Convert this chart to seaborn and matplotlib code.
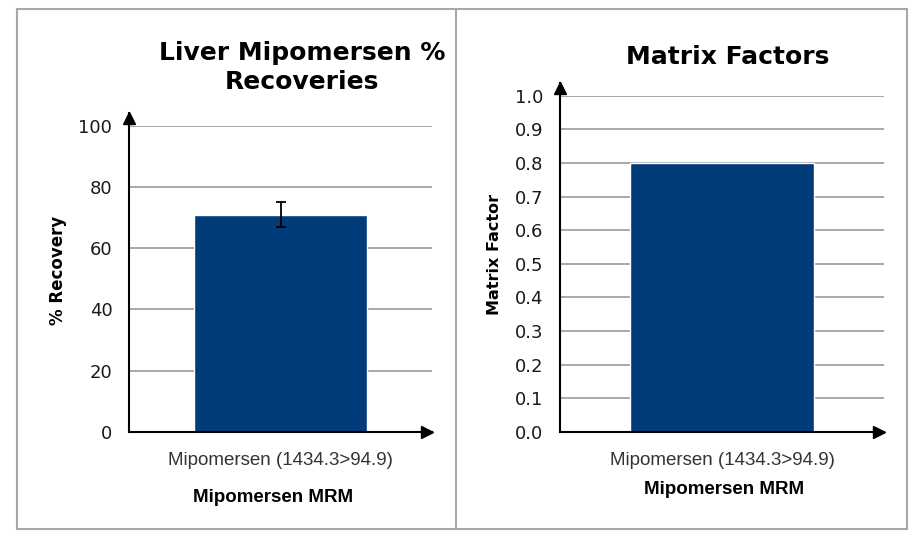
import matplotlib
matplotlib.use("Agg")
import matplotlib.pyplot as plt
from matplotlib.patches import Rectangle
from matplotlib.lines import Line2D
from matplotlib.transforms import ScaledTranslation
import seaborn as sns
import pandas as pd

# ---- data ----
categories = ["Mipomersen (1434.3>94.9)"]
recovery_values = [71.0]
recovery_err = [4.1]
matrix_values = [0.80]
recovery_ticks = [0, 20, 40, 60, 80, 100]
matrix_ticks = [0.0, 0.1, 0.2, 0.3, 0.4, 0.5, 0.6, 0.7, 0.8, 0.9, 1.0]
left_title = "Liver Mipomersen %\nRecoveries"
right_title = "Matrix Factors"
left_ylabel = "% Recovery"
right_ylabel = "Matrix Factor"
xlabel = "Mipomersen MRM"

BAR = "#023b7a"
GRID = "#9a9a9a"
W, H = 921, 537

sns.set_theme(style="white")
plt.rcParams["font.family"] = ["DejaVu Sans"]
plt.rcParams["text.color"] = "black"

fig = plt.figure(figsize=(W / 100, H / 100), dpi=100)
fig.patch.set_facecolor("white")


def px_axes(x0, x1, ybot, ytop):
    return fig.add_axes([x0 / W, 1 - ybot / H, (x1 - x0) / W, (ybot - ytop) / H])


def style(ax, ticks, fmt, ymax, top_frac):
    ax.set_xlim(-0.5, 0.5)
    ax.set_ylim(0, ymax)
    ax.set_yticks(ticks)
    ax.set_yticklabels([fmt.format(t) for t in ticks], fontsize=13, color="#1a1a1a")
    ax.yaxis.grid(True, color=GRID, linewidth=1.2)
    ax.set_axisbelow(True)
    for s in ["top", "right"]:
        ax.spines[s].set_visible(False)
    for s in ["left", "bottom"]:
        ax.spines[s].set_color("black")
        ax.spines[s].set_linewidth(1.5)
    ax.tick_params(axis="y", length=0, pad=12)
    ax.tick_params(axis="x", length=0, pad=14.5)
    ax.set_facecolor("white")
    ax.spines["left"].set_bounds(0, ymax * top_frac)
    # arrow heads (tip flush with the line ends)
    up = ax.transAxes + ScaledTranslation(0, -0.05, fig.dpi_scale_trans)
    right = ax.transAxes + ScaledTranslation(-0.05, 0, fig.dpi_scale_trans)
    ax.plot([0], [top_frac], marker="^", color="black", markersize=8,
            transform=up, clip_on=False)
    ax.plot([1], [0], marker=">", color="black", markersize=8,
            transform=right, clip_on=False)
    for lab in ax.get_xticklabels():
        lab.set_fontfamily("Liberation Sans")
        lab.set_fontsize(13.5)
        lab.set_color("#333333")


# Left panel
axL = px_axes(129, 432, 432, 125.7)
dfL = pd.DataFrame({"cat": categories, "val": recovery_values})
sns.barplot(data=dfL, x="cat", y="val", color=BAR, width=0.57, errorbar=None,
            saturation=1, ax=axL)
axL.errorbar(x=[0], y=recovery_values, yerr=recovery_err, fmt="none",
             ecolor="black", elinewidth=1.3, capsize=3.5, capthick=1.3)
style(axL, recovery_ticks, "{:.0f}", 100, 1.0 + 13 / 306.3)
axL.set_ylim(0, 100)
axL.set_xlabel(xlabel, fontsize=13.5, fontweight="bold", color="black",
               fontfamily="Liberation Sans")
axL.set_ylabel("")
axL.xaxis.set_label_coords((273 - 129) / (432 - 129), -(489 - 432) / (432 - 125.7))

# Right panel
axR = px_axes(560, 884, 432, 95.7)
dfR = pd.DataFrame({"cat": categories, "val": matrix_values})
sns.barplot(data=dfR, x="cat", y="val", color=BAR, width=0.568, errorbar=None,
            saturation=1, ax=axR)
style(axR, matrix_ticks, "{:.1f}", 1.0, 1.0 + 12.4 / 336.6)
axR.set_ylim(0, 1.0)
axR.set_xlabel(xlabel, fontsize=13.5, fontweight="bold", color="black",
               fontfamily="Liberation Sans")
axR.set_ylabel("")
axR.xaxis.set_label_coords((724 - 560) / (884 - 560), -(481 - 432) / (432 - 95.7))

# titles and y labels
fig.text(302 / W, 1 - 67.5 / H, left_title, ha="center", va="center",
         fontsize=18, fontweight="bold", linespacing=1.25, color="black")
fig.text(728 / W, 1 - 57 / H, right_title, ha="center", va="center",
         fontsize=18, fontweight="bold", color="black")
fig.text(58 / W, 1 - 270 / H, left_ylabel, rotation=90, ha="center", va="center",
         fontsize=12, fontweight="bold", color="black")
fig.text(494 / W, 1 - 254 / H, right_ylabel, rotation=90, ha="center", va="center",
         fontsize=11.5, fontweight="bold", color="black")

# panel frames
bc = "#a8a8a8"
fig.add_artist(Rectangle((17 / W, 1 - 529 / H), (907 - 17) / W, (529 - 8.7) / H,
                         transform=fig.transFigure, fill=False, edgecolor=bc, linewidth=1.5))
fig.add_artist(Line2D([455.7 / W, 455.7 / W], [1 - 529 / H, 1 - 8.7 / H],
                      transform=fig.transFigure, color=bc, linewidth=1.5))

fig.savefig("out.png", dpi=100, facecolor="white")
